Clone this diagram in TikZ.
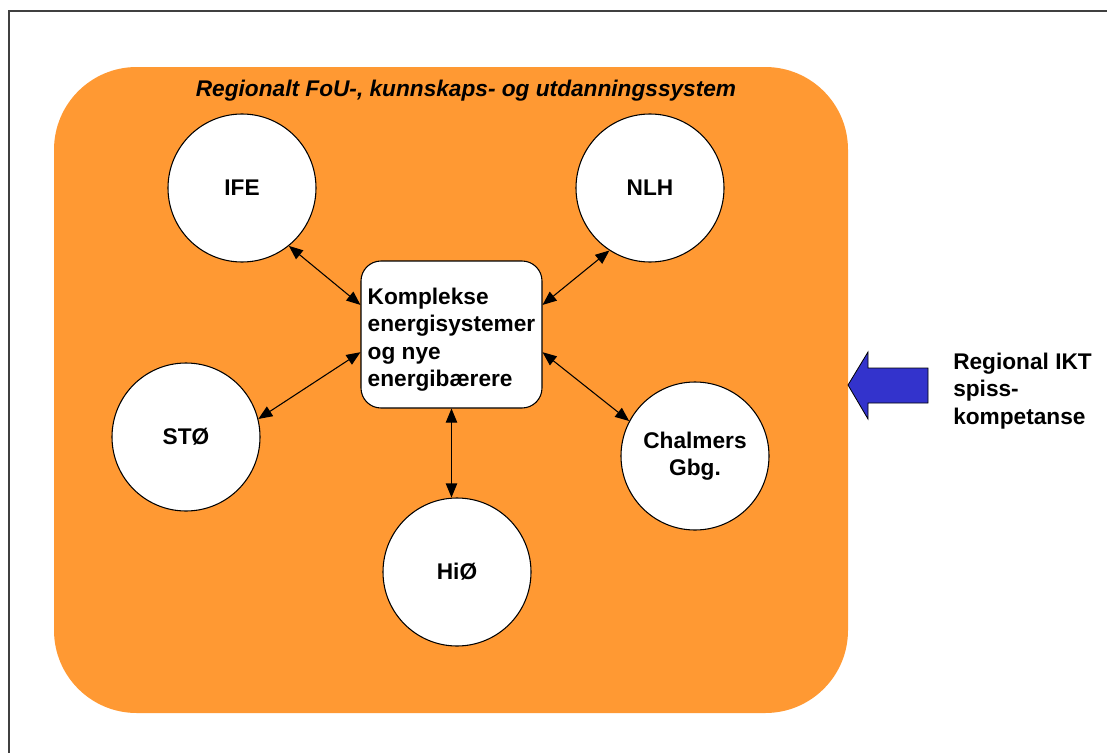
\documentclass[tikz,border=0pt]{standalone}
\usepackage{fontspec}
\setmainfont{Liberation Sans}
\usetikzlibrary{arrows.meta, positioning}
\definecolor{regorange}{RGB}{255,153,51}
\definecolor{iktblue}{RGB}{51,51,204}

\begin{document}
\begin{tikzpicture}[
		x=0.75pt, y=-0.75pt,
		font=\bfseries\fontsize{17}{20.6}\selectfont,
		% Region styles
		region/.style={fill=regorange, draw=none, rounded corners=62pt, minimum width=595.5pt, minimum height=484.5pt, inner sep=0pt},
		% Institution styles
		inst/.style={circle, draw=black, fill=white, line width=0.8pt, minimum size=111pt, inner sep=0pt, align=center},
		hub/.style={draw=black, fill=white, line width=0.8pt, rounded corners=15pt, minimum width=135.75pt, minimum height=110.25pt, align=left, inner sep=0pt},
		% Connector styles
		link/.style={{Triangle[length=10.5pt,width=8.5pt]}-{Triangle[length=10.5pt,width=8.5pt]}, line width=0.8pt}
		]
		
		\clip (0,0) rectangle (1107,753);
		
		% --- FRAME ---
		\draw[line width=1.2pt, black!75] (9,780) -- (9,11) -- (1140,11);
		
		% --- REGIONAL SYSTEM ---
		\node[region] (sys) at (451,390) {};
		\node[font=\bfseries\itshape\fontsize{17}{20.6}\selectfont] (title) at (466,91) {Regionalt FoU-, kunnskaps- og utdanningssystem};
		
		% 1. Institutions
		\node[inst] (IFE) at (242,188) {IFE};
		\node[inst] (NLH) at (650,188) {NLH};
		\node[inst] (STO) at (186,437) {STØ};
		\node[inst] (CHA) at (695,456) {Chalmers\\Gbg.};
		\node[inst] (HIO) at (457,572) {HiØ};
		
		% 2. Focus area
		\node[hub] (hub) at (451.5,334.5) {\rule{0pt}{20pt}Komplekse\\energisystemer\\og nye\\energibærere};
		
		% Connections
		\draw[link] (IFE.-51) -- (hub.162);
		\draw[link] (NLH.-123) -- (hub.18);
		\draw[link] (STO.14) -- (hub.-169);
		\draw[link] (CHA.152) -- (hub.-11);
		\draw[link] (hub.south) -- (hub.south |- HIO.north);
		
		% --- ICT INPUT ---
		\filldraw[fill=iktblue, draw=black, line width=0.6pt]
		(848,385) -- (868,352) -- (868,368) -- (928,368) -- (928,403) -- (868,403) -- (868,419) -- cycle;
		\node[anchor=west, align=left, inner sep=0pt] (ikt) at (953,391) {Regional IKT\\spiss-\\kompetanse};
		
	\end{tikzpicture}
\end{document}
